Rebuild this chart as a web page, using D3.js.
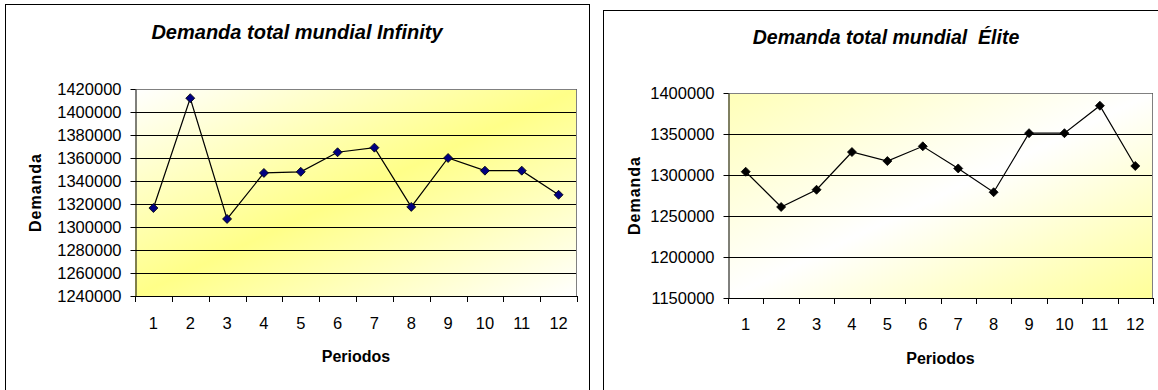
<!DOCTYPE html>
<html>
<head>
<meta charset="utf-8">
<script src="https://cdn.jsdelivr.net/npm/d3@7"></script>
<style>
  html, body { margin: 0; padding: 0; background: #fff; }
  svg { display: block; font-family: "Liberation Sans", Arial, sans-serif; }
</style>
</head>
<body>
<svg id="chart" width="1158" height="390"></svg>
<script>
// Periods shared by both charts
const periods = [1, 2, 3, 4, 5, 6, 7, 8, 9, 10, 11, 12];

// Total world demand, Infinity
const infinityDemand = [1316500, 1412000, 1307000, 1347000, 1348000, 1365000,
                        1369000, 1317500, 1360000, 1349000, 1349000, 1328000];
const infinityTicks = [1240000, 1260000, 1280000, 1300000, 1320000, 1340000,
                       1360000, 1380000, 1400000, 1420000];

// Total world demand, Élite
const eliteDemand = [1304000, 1261000, 1282000, 1328000, 1317000, 1335000,
                     1308000, 1279000, 1351000, 1351000, 1384500, 1311000];
const eliteTicks = [1150000, 1200000, 1250000, 1300000, 1350000, 1400000];

const svg = d3.select("#chart");
const defs = svg.append("defs");

function gradient(id, stops) {
  const g = defs.append("linearGradient").attr("id", id)
    .attr("x1", 0).attr("y1", 0).attr("x2", 1).attr("y2", 1);
  stops.forEach(([o, c]) => g.append("stop").attr("offset", o).attr("stop-color", c));
}
gradient("bgInfinity", [[0, "#ffffff"], [0.5, "#ffff88"], [1, "#ffffff"]]);
gradient("bgElite", [[0, "#ffffb8"], [0.5, "#ffffff"], [1, "#ffff99"]]);

function drawChart(cfg) {
  const g = svg.append("g");

  // chart frame
  g.append("rect")
    .attr("x", cfg.frame[0] + 0.5).attr("y", cfg.frame[1] + 0.5)
    .attr("width", cfg.frame[2]).attr("height", cfg.frame[3])
    .attr("fill", "#fff").attr("stroke", "#000").attr("stroke-width", 1);

  const [L, T, R, B] = cfg.plot;
  const x = d3.scaleBand().domain(cfg.categories).range([L, R]);
  const y = d3.scaleLinear().domain(cfg.domain).range([B, T]);

  // plot background
  g.append("rect").attr("x", L).attr("y", T).attr("width", R - L).attr("height", B - T)
    .attr("fill", `url(#${cfg.gradient})`);

  // horizontal gridlines
  g.append("g").selectAll("line").data(cfg.ticks.slice(1)).join("line")
    .attr("x1", L).attr("x2", R)
    .attr("y1", d => Math.round(y(d)) + 0.5).attr("y2", d => Math.round(y(d)) + 0.5)
    .attr("stroke", "#000").attr("stroke-width", 1);

  // plot border (top/right)
  g.append("path")
    .attr("d", `M${L},${T + 0.5}H${R - 0.5}V${B}`)
    .attr("fill", "none").attr("stroke", "#808080").attr("stroke-width", 1);

  // y axis
  const yAxis = g.append("g").attr("transform", `translate(${L + 0.5},0)`)
    .call(d3.axisLeft(y).tickValues(cfg.ticks).tickSize(5).tickSizeOuter(0).tickFormat(d3.format("d")));
  yAxis.select(".domain").attr("stroke", "#000");
  yAxis.selectAll(".tick line").attr("stroke", "#000");
  yAxis.selectAll(".tick text").attr("x", -14)
    .attr("font-size", 16.5).attr("font-family", "Liberation Sans, Arial, sans-serif").attr("fill", "#000");
  yAxis.selectAll(".tick").attr("transform", d => `translate(0,${Math.round(y(d)) + 0.5})`);

  // x axis: ticks at category boundaries
  const xg = g.append("g");
  xg.append("line").attr("x1", L).attr("x2", R).attr("y1", B + 0.5).attr("y2", B + 0.5)
    .attr("stroke", "#000");
  const bounds = cfg.categories.map(c => x(c)).concat([R]);
  xg.selectAll("line.tk").data(bounds).join("line").attr("class", "tk")
    .attr("x1", d => Math.round(d) + 0.5).attr("x2", d => Math.round(d) + 0.5)
    .attr("y1", B).attr("y2", B + 6).attr("stroke", "#000");
  xg.selectAll("text").data(cfg.categories).join("text")
    .attr("x", d => x(d) + x.bandwidth() / 2).attr("y", cfg.xLabelY)
    .attr("text-anchor", "middle").attr("font-size", 16.5).attr("fill", "#000")
    .text(d => d);

  // series line
  const line = d3.line().x((d, i) => x(cfg.categories[i]) + x.bandwidth() / 2).y(d => y(d));
  g.append("path").datum(cfg.values).attr("d", line)
    .attr("fill", "none").attr("stroke", "#000").attr("stroke-width", 1.2);

  // diamond markers
  g.append("g").selectAll("path").data(cfg.values).join("path")
    .attr("transform", (d, i) => `translate(${x(cfg.categories[i]) + x.bandwidth() / 2},${y(d)})`)
    .attr("d", "M0,-4.5L4.5,0L0,4.5L-4.5,0Z")
    .attr("fill", cfg.markerFill).attr("stroke", "#000").attr("stroke-width", 0.8);

  // titles
  g.append("text").attr("x", cfg.titleX).attr("y", cfg.titleY)
    .attr("text-anchor", "middle").attr("font-size", cfg.titleSize)
    .attr("font-weight", "bold").attr("font-style", "italic")
    .style("white-space", "pre").text(cfg.title);
  g.append("text").attr("x", (L + R) / 2).attr("y", cfg.xTitleY)
    .attr("text-anchor", "middle").attr("font-size", 16).attr("font-weight", "bold")
    .text("Periodos");
  g.append("text")
    .attr("transform", `translate(${cfg.yTitleX},${(T + B) / 2}) rotate(-90)`)
    .attr("text-anchor", "middle").attr("font-size", 16).attr("font-weight", "bold")
    .attr("letter-spacing", 1)
    .text("Demanda");
}

drawChart({
  frame: [5, 4, 584, 400],
  plot: [135, 89, 577, 296],
  categories: periods,
  values: infinityDemand,
  ticks: infinityTicks,
  domain: [1240000, 1420000],
  gradient: "bgInfinity",
  markerFill: "#000080",
  title: "Demanda total mundial Infinity",
  titleSize: 20,
  titleX: 297, titleY: 39,
  xLabelY: 329, xTitleY: 362, yTitleX: 41
});

drawChart({
  frame: [603, 10, 600, 400],
  plot: [728, 93, 1153, 298],
  categories: periods,
  values: eliteDemand,
  ticks: eliteTicks,
  domain: [1150000, 1400000],
  gradient: "bgElite",
  markerFill: "#000",
  title: "Demanda total mundial  Élite",
  titleSize: 19.5,
  titleX: 886, titleY: 44,
  xLabelY: 330, xTitleY: 364, yTitleX: 640
});
</script>
</body>
</html>
